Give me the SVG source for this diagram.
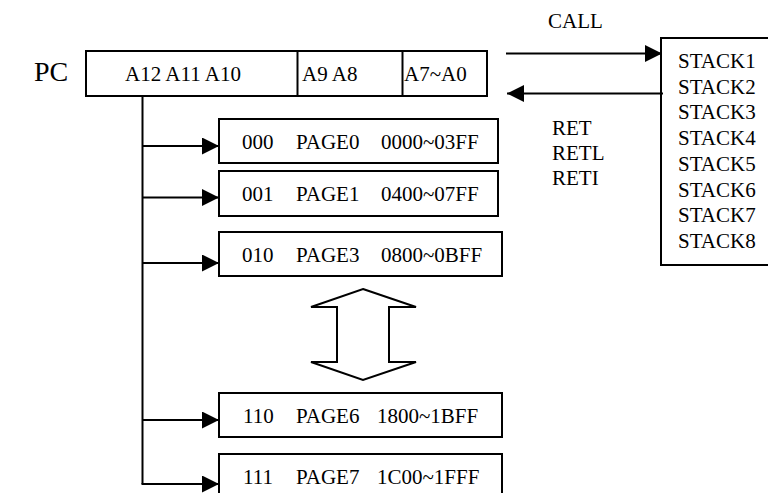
<svg xmlns="http://www.w3.org/2000/svg" width="768" height="493" viewBox="0 0 768 493">
<style>
  .box { fill: #fff; stroke: #000; stroke-width: 2; }
  .ln { fill: none; stroke: #000; stroke-width: 2; }
  .t { font-family: "Liberation Serif", "Times New Roman", serif; font-size: 21px; fill: #000; }
  .pc { font-family: "Liberation Serif", "Times New Roman", serif; font-size: 28px; fill: #000; }
</style>
<defs>
  <marker id="ah" markerUnits="userSpaceOnUse" markerWidth="18" markerHeight="18" refX="17" refY="8.5" orient="auto">
    <path d="M0,0 L17,8.5 L0,17 Z" fill="#000"/>
  </marker>
</defs>
<rect width="768" height="493" fill="#fff"/>

<g id="pc-label"><text class="pc" x="34" y="81">PC</text></g>

<g id="pc-register">
  <rect class="box" x="86" y="51" width="401" height="45"/>
  <line class="ln" x1="297.5" y1="51" x2="297.5" y2="96"/>
  <line class="ln" x1="402.5" y1="51" x2="402.5" y2="96"/>
  <text class="t" x="125" y="81">A12 A11 A10</text>
  <text class="t" x="302" y="81">A9 A8</text>
  <text class="t" x="404" y="81">A7~A0</text>
</g>

<g id="stack">
  <rect class="box" x="661" y="38" width="140" height="227"/>
  <text class="t" x="678" y="68">STACK1</text>
  <text class="t" x="678" y="93.7">STACK2</text>
  <text class="t" x="678" y="119.4">STACK3</text>
  <text class="t" x="678" y="145">STACK4</text>
  <text class="t" x="678" y="170.8">STACK5</text>
  <text class="t" x="678" y="196.5">STACK6</text>
  <text class="t" x="678" y="222.2">STACK7</text>
  <text class="t" x="678" y="248">STACK8</text>
</g>

<g id="call-label"><text class="t" x="548" y="28">CALL</text></g>
<g id="ret-labels">
  <text class="t" x="552" y="135">RET</text>
  <text class="t" x="552" y="160">RETL</text>
  <text class="t" x="552" y="185">RETI</text>
</g>

<g id="page0">
  <rect class="box" x="219" y="119" width="279" height="44"/>
  <text class="t" y="149"><tspan x="242">000</tspan><tspan x="296">PAGE0</tspan><tspan x="381">0000~03FF</tspan></text>
</g>
<g id="page1">
  <rect class="box" x="219" y="171" width="279" height="45"/>
  <text class="t" y="201"><tspan x="242">001</tspan><tspan x="296">PAGE1</tspan><tspan x="381">0400~07FF</tspan></text>
</g>
<g id="page3">
  <rect class="box" x="219" y="232" width="283" height="44"/>
  <text class="t" y="262"><tspan x="242">010</tspan><tspan x="296">PAGE3</tspan><tspan x="381">0800~0BFF</tspan></text>
</g>
<g id="page6">
  <rect class="box" x="219" y="393" width="283" height="44"/>
  <text class="t" y="423"><tspan x="243">110</tspan><tspan x="296">PAGE6</tspan><tspan x="377">1800~1BFF</tspan></text>
</g>
<g id="page7">
  <rect class="box" x="219" y="454" width="283" height="44"/>
  <text class="t" y="484"><tspan x="243">111</tspan><tspan x="296">PAGE7</tspan><tspan x="377">1C00~1FFF</tspan></text>
</g>

<g id="double-arrow">
  <polygon class="ln" fill="#fff" points="363,289 416,307 389,307 389,362 416,362 363,380 311,362 337,362 337,307 311,307"/>
</g>

<g id="connectors">
  <polyline class="ln" points="142.5,96 142.5,484"/>
  <line class="ln" x1="142.5" y1="146" x2="219" y2="146" marker-end="url(#ah)"/>
  <line class="ln" x1="142.5" y1="197.5" x2="219" y2="197.5" marker-end="url(#ah)"/>
  <line class="ln" x1="142.5" y1="263" x2="219" y2="263" marker-end="url(#ah)"/>
  <line class="ln" x1="142.5" y1="420" x2="219" y2="420" marker-end="url(#ah)"/>
  <line class="ln" x1="141.5" y1="484" x2="219" y2="484" marker-end="url(#ah)"/>
  <line class="ln" x1="506" y1="53.5" x2="662" y2="53.5" marker-end="url(#ah)"/>
  <line class="ln" x1="663" y1="93.5" x2="507" y2="93.5" marker-end="url(#ah)"/>
</g>
</svg>
